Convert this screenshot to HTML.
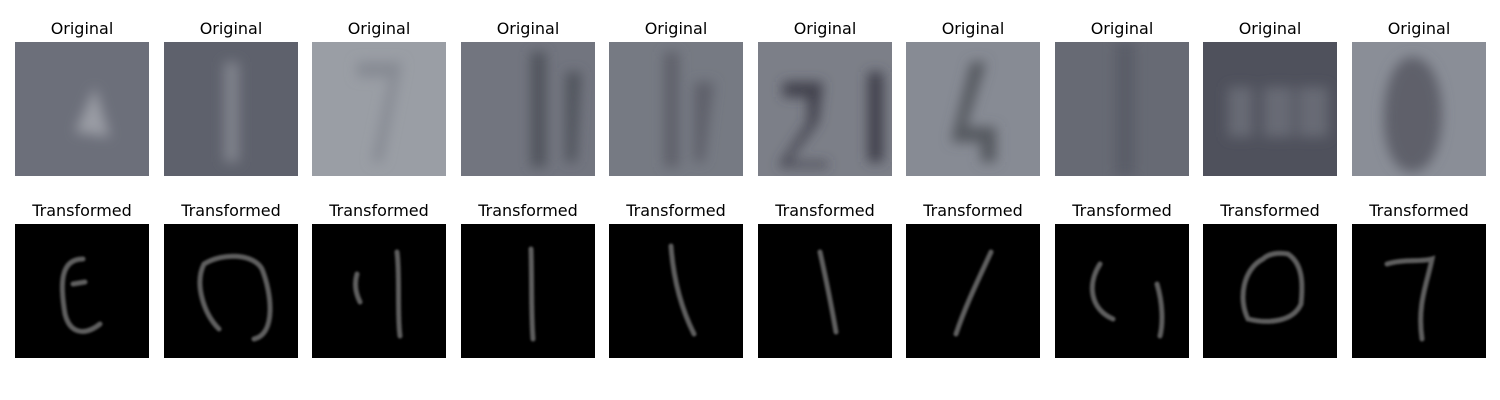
<!DOCTYPE html>
<html><head><meta charset="utf-8"><style>
html,body{margin:0;padding:0;background:#fff;width:1500px;height:400px;overflow:hidden}
text{font-family:"DejaVu Sans","Liberation Sans",sans-serif;font-size:16px;fill:#000}
</style></head><body>
<svg width="1500" height="400">
<defs>
<filter id="b" filterUnits="userSpaceOnUse" x="-20" y="-20" width="180" height="180"><feGaussianBlur stdDeviation="6"/></filter>
<filter id="s" filterUnits="userSpaceOnUse" x="-20" y="-20" width="180" height="180"><feGaussianBlur stdDeviation="1"/></filter>
</defs>
<g id="grid"></g>
</svg>
<script>
const xs=[15,164,312,461,609,758,906,1055,1203,1352];
const bgs=['#6c6f7a','#5e616c','#9a9ea5','#72757f','#767a83','#7c7f88','#878b94','#676a74','#4f515c','#8a8e97'];
const digitFill=['#9a9ca4','#80838c','#868a93','#50525c','#5e616b','#3f414b','#55585f','#5a5d67','#676a75','#5e616b'];
const origPaths=[
'M80 45 L60 90 L95 95 Z',
'M60 20 L75 20 L75 120 L60 120 Z',
'M45 20 L90 20 L70 120 L60 120 L78 35 L45 35 Z',
'M70 10 L85 10 L85 125 L70 125 Z M105 30 L120 30 L115 120 L105 120 Z',
'M55 10 L70 10 L70 125 L55 125 Z M85 40 L105 40 L95 120 L85 120 Z',
'M25 40 L65 40 L60 80 L30 120 L70 120 L70 125 L20 125 L50 80 L50 55 L25 55 Z M110 30 L125 30 L125 120 L110 120 Z',
'M65 20 L80 20 L60 85 L90 85 L90 120 L75 120 L75 100 L45 100 Z',
'M60 0 L80 0 L80 134 L60 134 Z',
'M25 45 L50 45 L50 95 L25 95 Z M60 45 L90 45 L90 95 L60 95 Z M95 45 L125 45 L125 95 L95 95 Z',
'M60 15 C100 15 100 130 60 130 C20 130 25 15 60 15 Z'];
const transPaths=[
'M68 35 C45 35 45 60 50 90 C55 110 70 112 85 100 M58 60 L70 58',
'M40 40 C60 28 90 30 98 45 C108 70 112 110 90 115 M55 105 C40 90 30 60 40 40',
'M85 28 C88 50 85 90 88 112 M45 50 C42 60 44 70 48 78',
'M70 25 C71 55 70 90 72 115',
'M62 22 C64 50 70 80 85 110',
'M62 28 C68 55 74 85 78 108',
'M85 28 C75 50 60 80 50 110',
'M45 40 C32 60 35 85 58 95 M102 60 C108 80 108 100 105 112',
'M60 35 C40 45 35 75 45 95 C65 100 90 98 98 80 C100 60 100 40 85 30 C75 28 65 30 60 35',
'M35 40 C50 35 70 38 80 35 C75 60 65 80 70 115'];
const titles=['Original','Transformed'];
const g=document.getElementById('grid');
const NS='http://www.w3.org/2000/svg';
function mk(t,a){const e=document.createElementNS(NS,t);for(const k in a)e.setAttribute(k,a[k]);return e;}
xs.forEach((x,i)=>{
  [0,1].forEach(r=>{
    const y=r?224:42;
    const t=mk('text',{x:x+67,y:y-8,'text-anchor':'middle'});
    t.textContent=titles[r];
    
    
    g.appendChild(t);
    const grp=mk('g',{transform:`translate(${x},${y})`});
    
    
    const svgi=mk('svg',{width:134,height:134,overflow:'hidden'});
    svgi.appendChild(mk('rect',{width:134,height:134,fill:r?'#000':bgs[i]}));
    if(r){svgi.appendChild(mk('path',{d:transPaths[i],fill:'none',stroke:'#5e5e5e','stroke-width':5,'stroke-linecap':'round',filter:'url(#s)'}));}
    else{svgi.appendChild(mk('path',{d:origPaths[i],fill:digitFill[i],filter:'url(#b)'}));}
    grp.appendChild(svgi);g.appendChild(grp);
  });
});
</script>
</body></html>
